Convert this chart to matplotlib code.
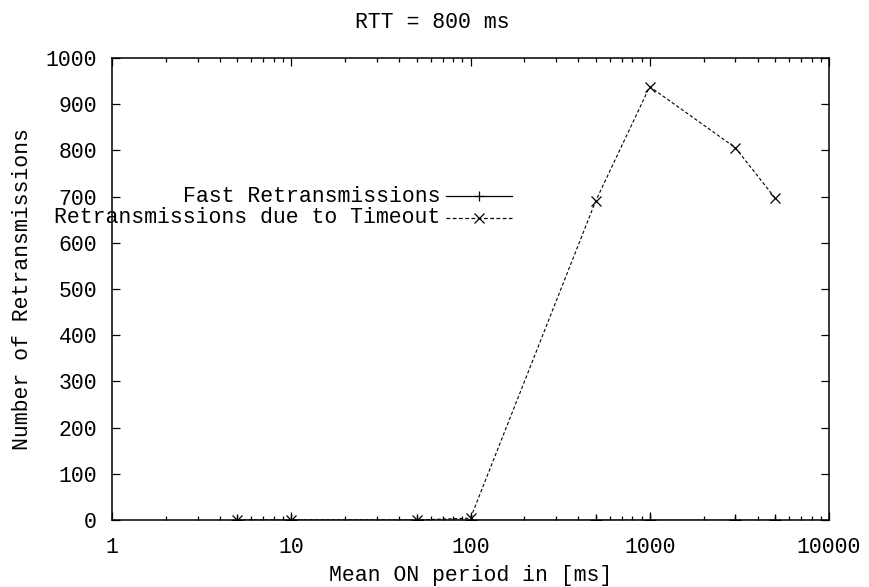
import matplotlib.pyplot as plt
from matplotlib.ticker import LogLocator, FixedLocator, NullFormatter

plt.rcParams['font.family'] = ['Liberation Mono', 'DejaVu Sans Mono']

# mean ON period (ms) and retransmission counts
on_period = [5, 10, 50, 100, 500, 1000, 3000, 5000]
fast_retx = [0, 0, 0, 0, 0, 0, 0, 0]
timeout_retx = [0, 0, 0, 4, 691, 938, 806, 697]

x_ticks = [1, 10, 100, 1000, 10000]
y_ticks = [0, 100, 200, 300, 400, 500, 600, 700, 800, 900, 1000]

FS = 15.5

fig = plt.figure(figsize=(8.69, 5.87), dpi=100)
ax = fig.add_axes([112 / 869, 1 - 520 / 587, 717 / 869, 462 / 587])

ax.plot(on_period, fast_retx, color='black', lw=1.0, marker='+', ms=8, mew=1.0)
ax.plot(on_period, timeout_retx, color='black', lw=0.8, ls=(0, (3, 2)),
        marker='x', ms=7, mew=0.9)

ax.set_xscale('log')
ax.set_xlim(1, 10000)
ax.set_ylim(0, 1000)
ax.xaxis.set_major_locator(FixedLocator(x_ticks))
ax.xaxis.set_minor_locator(LogLocator(base=10, subs=range(2, 10)))
ax.xaxis.set_minor_formatter(NullFormatter())
ax.set_xticklabels([str(t) for t in x_ticks])
ax.set_yticks(y_ticks)

ax.tick_params(which='both', direction='in', top=True, right=True,
               labelsize=FS, width=0.9)
ax.tick_params(which='major', length=6)
ax.tick_params(which='minor', length=3)
ax.tick_params(axis='x', which='major', pad=12)
ax.tick_params(axis='y', which='major', pad=10.8)
for s in ax.spines.values():
    s.set_linewidth(1.1)

ax.set_xlabel('Mean ON period in [ms]', fontsize=FS, va='center')
ax.xaxis.set_label_coords(0.5, -(576 - 520) / 462)
ax.set_ylabel('Number of Retransmissions', fontsize=FS, va='center')
ax.yaxis.set_label_coords((22 - 112) / 717, 0.5)
fig.text(0.497, 1 - 22 / 587, 'RTT = 800 ms', ha='center', va='center',
         fontsize=FS)

# key, gnuplot style: right-aligned text followed by a sample line
key_rows = [('Fast Retransmissions', '-', '+', 0.701),
            ('Retransmissions due to Timeout', (0, (3, 2)), 'x', 0.654)]
for label, ls, mk, ky in key_rows:
    ax.text(0.4575, ky, label, transform=ax.transAxes, ha='right',
            va='center', fontsize=FS)
    ax.plot([0.466, 0.558], [ky, ky], transform=ax.transAxes, color='black',
            lw=0.9, ls=ls, clip_on=False)
    ax.plot([0.512], [ky], transform=ax.transAxes, color='black', marker=mk,
            ms=7, mew=0.9, ls='none', clip_on=False)

fig.savefig('out.png', dpi=100)
